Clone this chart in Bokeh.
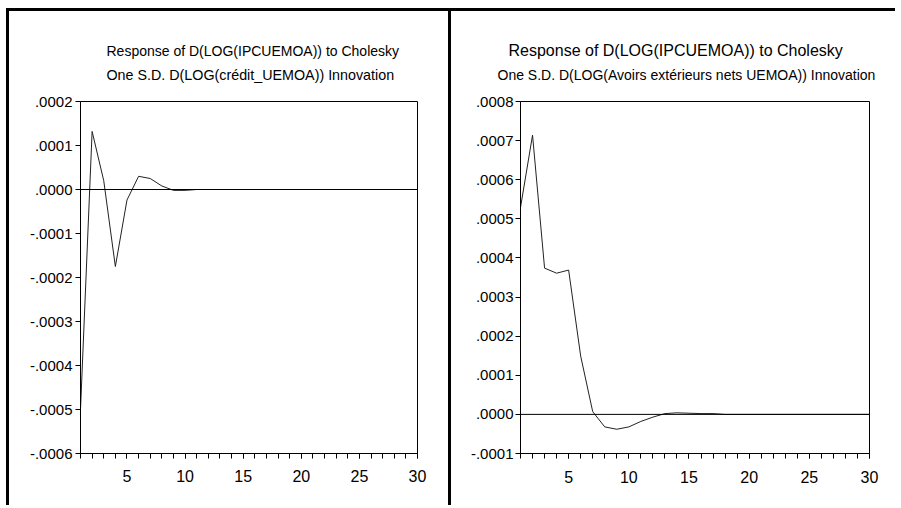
from bokeh.plotting import figure
from bokeh.models import Range1d, FixedTicker, Span, Title, CustomJSTickFormatter
from bokeh.layouts import row
from bokeh.embed import file_html
from bokeh.resources import INLINE

# ---------------- data ----------------
periods = list(range(1, 31))

resp_credit = [-0.000500, 0.000132, 0.000020, -0.000175, -0.000024, 0.000030,
               0.000025, 0.000008, -0.000002, -0.000002, 0.000000, 0.000000,
               0.000000, 0.000000, 0.000000, 0.000000, 0.000000, 0.000000,
               0.000000, 0.000000, 0.000000, 0.000000, 0.000000, 0.000000,
               0.000000, 0.000000, 0.000000, 0.000000, 0.000000, 0.000000]

resp_avoirs = [0.000529, 0.000714, 0.000374, 0.000361, 0.000369, 0.000149,
               0.000007, -0.000032, -0.000038, -0.000032, -0.000018, -0.000007,
               0.000002, 0.000004, 0.000003, 0.000002, 0.000002, 0.000000,
               0.000000, 0.000000, 0.000000, 0.000000, 0.000000, 0.000000,
               0.000000, 0.000000, 0.000000, 0.000000, 0.000000, 0.000000]

x_ticks = [5, 10, 15, 20, 25, 30]
x_minor_ticks = list(range(1, 31))

y_ticks_credit = [-0.0006, -0.0005, -0.0004, -0.0003, -0.0002, -0.0001, 0.0, 0.0001, 0.0002]
y_labels_credit = ["-.0006", "-.0005", "-.0004", "-.0003", "-.0002", "-.0001", ".0000", ".0001", ".0002"]

y_ticks_avoirs = [-0.0001, 0.0, 0.0001, 0.0002, 0.0003, 0.0004, 0.0005, 0.0006, 0.0007, 0.0008]
y_labels_avoirs = ["-.0001", ".0000", ".0001", ".0002", ".0003", ".0004", ".0005", ".0006", ".0007", ".0008"]

title_credit = ["Response of D(LOG(IPCUEMOA)) to Cholesky",
                "One S.D. D(LOG(crédit_UEMOA)) Innovation"]
title_avoirs = ["Response of D(LOG(IPCUEMOA)) to Cholesky",
                "One S.D. D(LOG(Avoirs extérieurs nets UEMOA)) Innovation"]

FONT = "Liberation Sans"


def make_panel(values, y_ticks, y_labels, titles, width, height, borders,
               title_offsets, title_sizes, spacer, y_standoff, x_standoff):
    left, right, top, bottom = borders
    p = figure(width=width, height=height, output_backend="svg", toolbar_location=None,
               x_range=Range1d(1, 30), y_range=Range1d(y_ticks[0], y_ticks[-1]),
               min_border_left=left, min_border_right=right,
               min_border_top=top, min_border_bottom=bottom)
    p.xgrid.visible = False
    p.ygrid.visible = False
    p.outline_line_color = "black"
    p.outline_line_width = 1
    p.outline_line_alpha = 1
    p.background_fill_color = "white"
    p.border_fill_color = "white"

    xa = p.xaxis[0]
    xa.ticker = FixedTicker(ticks=x_ticks, minor_ticks=x_minor_ticks)
    xa.major_tick_in = 0
    xa.major_tick_out = 5
    xa.minor_tick_in = 0
    xa.minor_tick_out = 5
    xa.axis_line_color = "black"
    xa.major_tick_line_color = "black"
    xa.minor_tick_line_color = "black"
    xa.major_label_text_font = FONT
    xa.major_label_text_font_size = "16px"
    xa.major_label_text_color = "black"
    xa.major_label_standoff = x_standoff

    ya = p.yaxis[0]
    ya.ticker = FixedTicker(ticks=y_ticks, minor_ticks=[])
    ya.formatter = CustomJSTickFormatter(args=dict(tick_values=y_ticks, tick_texts=y_labels), code="""
        for (let i = 0; i < tick_values.length; i++) {
            if (Math.abs(tick_values[i] - tick) < 1e-9) { return tick_texts[i]; }
        }
        return '';
    """)
    ya.major_tick_in = 0
    ya.major_tick_out = 5
    ya.minor_tick_in = 0
    ya.minor_tick_out = 0
    ya.axis_line_color = "black"
    ya.major_tick_line_color = "black"
    ya.major_label_text_font = FONT
    ya.major_label_text_font_size = "15px"
    ya.major_label_text_color = "black"
    ya.major_label_standoff = y_standoff

    p.add_layout(Span(location=0, dimension="width", line_color="black", line_width=1))
    p.line(periods, values, line_color="#222222", line_width=1)

    # invisible spacer between the frame and the two title lines
    p.add_layout(Title(text=" ", text_font_size="1px", standoff=spacer), "above")
    # later-added titles stack further from the frame
    p.add_layout(Title(text=titles[1], align="left", offset=title_offsets[1],
                       text_font=FONT, text_font_size=title_sizes[1],
                       text_font_style="normal", text_color="black", standoff=13), "above")
    p.add_layout(Title(text=titles[0], align="left", offset=title_offsets[0],
                       text_font=FONT, text_font_size=title_sizes[0],
                       text_font_style="normal", text_color="black", standoff=0), "above")
    return p


p1 = make_panel(resp_credit, y_ticks_credit, y_labels_credit, title_credit,
                442, 497, (71, 34, 89, 51),
                [26, 26], ["14px", "14.3px"], 8.6, 3, 11)
p1.margin = (8, 0, 0, 6)
p1.styles = {"border-left": "3px solid black", "border-top": "3px solid black"}

p2 = make_panel(resp_avoirs, y_ticks_avoirs, y_labels_avoirs, title_avoirs,
                447, 497, (69, 29, 90, 55),
                [-12, -23], ["16px", "14px"], 9.1, 2, 12)
p2.margin = (8, 0, 0, 0)
p2.styles = {"border-left": "3px solid black", "border-top": "3px solid black"}

layout = row(p1, p2)
layout.margin = 0

open("out.html", "w").write(file_html(layout, INLINE))
